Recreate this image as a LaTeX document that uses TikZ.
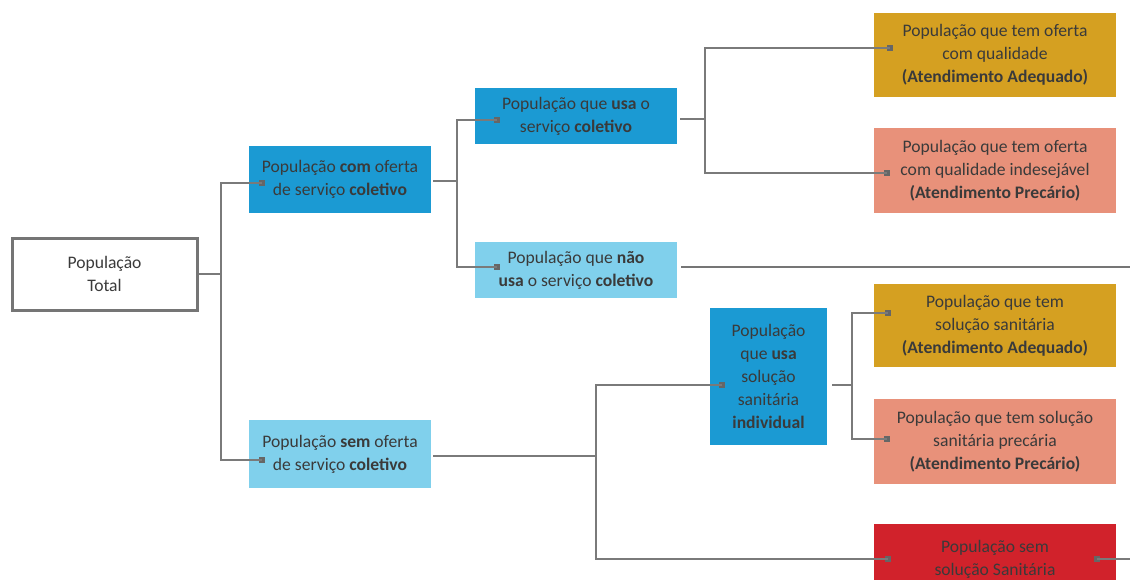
\documentclass[tikz,border=0pt]{standalone}
\usepackage{fontspec}
\setmainfont{Carlito}
\definecolor{txt}{HTML}{3A3A3A}
\definecolor{blueA}{HTML}{1B9AD3}
\definecolor{blueB}{HTML}{80D0EC}
\definecolor{goldA}{HTML}{D5A021}
\definecolor{salm}{HTML}{E8917A}
\definecolor{redA}{HTML}{D1222B}
\definecolor{lin}{HTML}{7A7A7A}
\definecolor{mk}{HTML}{666666}
\begin{document}
\begin{tikzpicture}[x=1pt,y=-1pt,
  box/.style={inner sep=0pt, align=center, text=txt, font=\fontsize{17.6}{23}\selectfont},
  conn/.style={draw=lin, line width=1.8pt},
  mkbox/.style={fill=mk, minimum size=6pt, inner sep=0pt}]
\useasboundingbox (0,0) rectangle (1130,579);
% boxes
\node[box, draw=mk!90, line width=3pt, fill=white, minimum width=185pt, minimum height=72pt] (total) at (104.5,274) {População\\Total};
\node[box, fill=blueA, minimum width=182pt, minimum height=67pt] (com) at (340,179.5) {População \textbf{com} oferta\\de serviço \textbf{coletivo}};
\node[box, fill=blueB, minimum width=182pt, minimum height=68pt] (sem) at (340,454) {População \textbf{sem} oferta\\de serviço \textbf{coletivo}};
\node[box, fill=blueA, minimum width=202pt, minimum height=56pt] (usa) at (576,116) {População que \textbf{usa} o\\serviço \textbf{coletivo}};
\node[box, fill=blueB, minimum width=202pt, minimum height=56pt] (nao) at (576,270) {População que \textbf{não}\\\textbf{usa} o serviço \textbf{coletivo}};
\node[box, fill=goldA, minimum width=242pt, minimum height=84pt] (g1) at (995,55) {População que tem oferta\\com qualidade\\\textbf{(Atendimento Adequado)}};
\node[box, fill=salm, minimum width=242pt, minimum height=85pt] (s1) at (995,170.5) {População que tem oferta\\com qualidade indesejável\\\textbf{(Atendimento Precário)}};
\node[box, fill=blueA, minimum width=117pt, minimum height=137pt] (ind) at (768.5,376.5) {População\\que \textbf{usa}\\solução\\sanitária\\\textbf{individual}};
\node[box, fill=goldA, minimum width=242pt, minimum height=83pt] (g2) at (995,325.5) {População que tem\\solução sanitária\\\textbf{(Atendimento Adequado)}};
\node[box, fill=salm, minimum width=242pt, minimum height=85pt] (s2) at (995,441.5) {População que tem solução\\sanitária precária\\\textbf{(Atendimento Precário)}};
\node[box, fill=redA, minimum width=242pt, minimum height=70pt] (red) at (995,559) {População sem\\solução Sanitária};
% markers
\node[mkbox] (mcom) at (262,183) {};
\node[mkbox] (msem) at (262,460) {};
\node[mkbox] (musa) at (497,120) {};
\node[mkbox] (mnao) at (497,267) {};
\node[mkbox] (mg1) at (890,48) {};
\node[mkbox] (ms1) at (887,173) {};
\node[mkbox] (mind) at (722,385) {};
\node[mkbox] (mg2) at (888,313) {};
\node[mkbox] (ms2) at (887,439) {};
\node[mkbox] (mred) at (888,559) {};
\node[mkbox] (mredr) at (1097,559) {};
% junctions
\coordinate (j0) at (221,274);
\coordinate (j1) at (457,181);
\coordinate (j2) at (705,119);
\coordinate (j3) at (596,456);
\coordinate (j4) at (852,385);
\coordinate (eNao) at (1130,267);
\coordinate (eRed) at (1130,559);
% connectors
\draw[conn] (total.east |- j0) -- (j0);
\draw[conn] (j0) |- (mcom.center);
\draw[conn] (j0) |- (msem.center);
\draw[conn] ([xshift=2pt]com.east |- j1) -- (j1);
\draw[conn] (j1) |- (musa.center);
\draw[conn] (j1) |- (mnao.center);
\draw[conn] ([xshift=3pt]usa.east |- j2) -- (j2);
\draw[conn] (j2) |- (mg1.center);
\draw[conn] (j2) |- (ms1.center);
\draw[draw=mk!90, line width=2.6pt] ([xshift=4pt]nao.east |- eNao) -- (eNao);
\draw[conn] ([xshift=2pt]sem.east |- j3) -- (j3);
\draw[conn] (j3) |- (mind.center);
\draw[conn] (j3) |- (mred.center);
\draw[conn] ([xshift=5pt]ind.east |- j4) -- (j4);
\draw[conn] (j4) |- (mg2.center);
\draw[conn] (j4) |- (ms2.center);
\draw[conn] (mredr.center) -- (eRed);
\end{tikzpicture}
\end{document}
